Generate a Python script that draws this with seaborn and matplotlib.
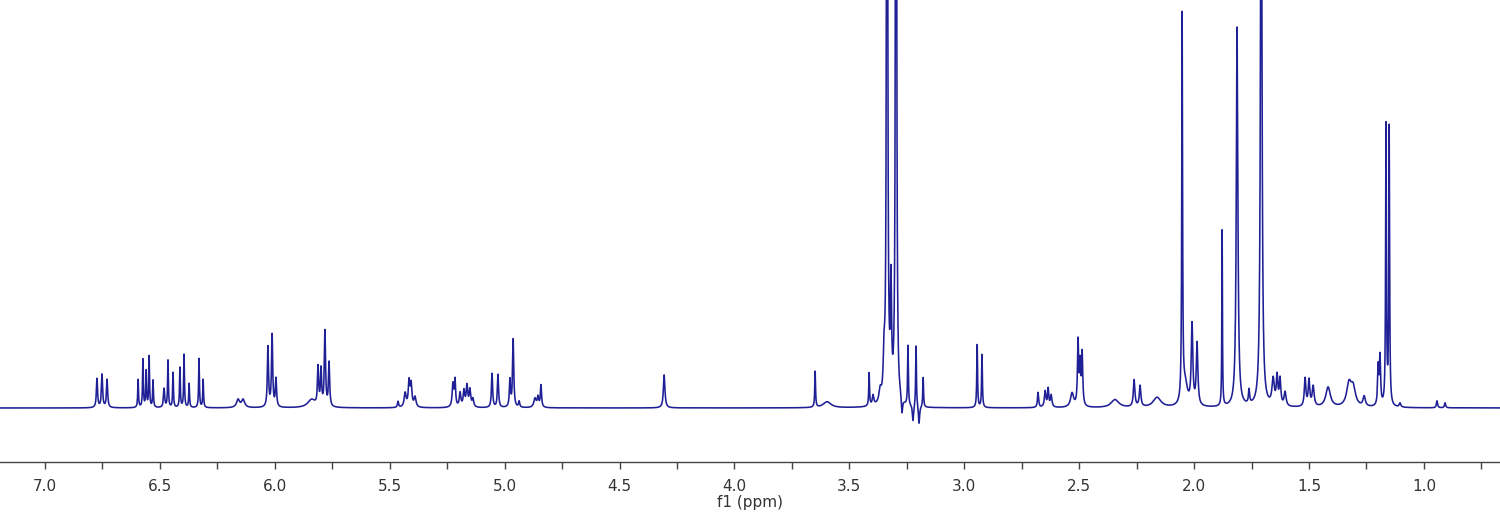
import numpy as np
import pandas as pd
import matplotlib
matplotlib.use("Agg")
import matplotlib.pyplot as plt
import seaborn as sns
from matplotlib.ticker import MultipleLocator, FormatStrFormatter

# Peak list (ppm, height above baseline, half width in ppm)
peak_ppm = [
    6.774, 6.752, 6.730,
    6.595, 6.574, 6.560, 6.547, 6.530,
    6.482, 6.465, 6.443, 6.413, 6.395, 6.373, 6.330, 6.312,
    6.160, 6.138,
    6.030, 6.012, 5.995,
    5.840, 5.812, 5.799, 5.782, 5.764,
    5.464, 5.433, 5.416, 5.407, 5.390,
    5.225, 5.216, 5.194, 5.177, 5.164, 5.151, 5.138,
    5.055, 5.029, 4.977, 4.963, 4.937,
    4.868, 4.855, 4.842,
    4.306,
    3.649, 3.597,
    3.414, 3.397, 3.366, 3.349, 3.336, 3.319, 3.297,
    3.271, 3.245, 3.223, 3.210, 3.197, 3.179,
    2.944, 2.923,
    2.679, 2.648, 2.635, 2.622,
    2.531, 2.505, 2.496, 2.487,
    2.344, 2.261, 2.235, 2.161,
    2.052, 2.039, 2.009, 1.987,
    1.878, 1.813, 1.761, 1.708,
    1.656, 1.639, 1.626, 1.604,
    1.517, 1.500, 1.482, 1.417, 1.326, 1.308, 1.260,
    1.199, 1.191, 1.165, 1.151, 1.104,
    0.943, 0.908,
]
peak_height = [
    29, 33, 28,
    28, 48, 36, 51, 27,
    19, 47, 35, 40, 53, 24, 49, 28,
    8, 8,
    60, 72, 28,
    8, 38, 36, 75, 44,
    6, 14, 25, 22, 10,
    23, 26, 14, 16, 21, 17, 8,
    34, 33, 27, 68, 6,
    9, 10, 22,
    33,
    36, 6,
    33, 10, 12, 40, 1500, 110, 1500,
    -16, 60, -16, 62, -18, 30,
    63, 53,
    15, 16, 18, 12,
    14, 64, 40, 52,
    8, 27, 21, 10,
    385, 22, 80, 62,
    176, 380, 14, 700,
    26, 28, 26, 14,
    28, 26, 20, 20, 22, 18, 10,
    38, 48, 280, 278, 4,
    7, 5,
]
peak_hwhm = [
    0.003, 0.003, 0.003,
    0.002, 0.002, 0.002, 0.002, 0.002,
    0.003, 0.002, 0.002, 0.002, 0.002, 0.002, 0.002, 0.002,
    0.008, 0.008,
    0.003, 0.003, 0.003,
    0.02, 0.003, 0.003, 0.003, 0.003,
    0.003, 0.005, 0.004, 0.004, 0.005,
    0.004, 0.003, 0.004, 0.004, 0.004, 0.004, 0.004,
    0.003, 0.003, 0.003, 0.003, 0.003,
    0.006, 0.004, 0.003,
    0.004,
    0.002, 0.02,
    0.002, 0.004, 0.006, 0.004, 0.002, 0.003, 0.002,
    0.003, 0.002, 0.003, 0.002, 0.003, 0.002,
    0.002, 0.002,
    0.003, 0.004, 0.003, 0.004,
    0.008, 0.003, 0.003, 0.003,
    0.02, 0.004, 0.004, 0.02,
    0.002, 0.012, 0.004, 0.004,
    0.0015, 0.004, 0.003, 0.0035,
    0.006, 0.004, 0.004, 0.005,
    0.004, 0.004, 0.005, 0.012, 0.012, 0.012, 0.006,
    0.003, 0.003, 0.002, 0.002, 0.004,
    0.003, 0.003,
]

# build the trace from the peak list
ppm = np.arange(0.66, 7.21, 0.0003)
intensity = np.zeros_like(ppm)
for c, h, w in zip(peak_ppm, peak_height, peak_hwhm):
    intensity += h * w ** 2 / (w ** 2 + (ppm - c) ** 2)
df = pd.DataFrame({"ppm": ppm, "intensity": intensity})

sns.set_style("white")
plt.rcParams['font.family'] = ['DejaVu Sans']

fig = plt.figure(figsize=(15, 5.16), dpi=100)
ax = fig.add_axes([0, 0.1047, 1, 0.8953])
sns.lineplot(data=df, x="ppm", y="intensity", estimator=None, sort=False,
             color="#1f1f96", linewidth=1.15, ax=ax)

ax.set_xlim(7.196, 0.669)
ax.set_ylim(-54, 408)
for s in ["left", "top", "right"]:
    ax.spines[s].set_visible(False)
ax.spines["bottom"].set_color("#444444")
ax.spines["bottom"].set_linewidth(1.0)
ax.set_yticks([])
ax.set_ylabel("")
ax.xaxis.set_major_locator(MultipleLocator(0.5))
ax.xaxis.set_minor_locator(MultipleLocator(0.25))
ax.xaxis.set_major_formatter(FormatStrFormatter("%.1f"))
ax.tick_params(axis="x", which="both", direction="out", length=5, width=1,
               color="#444444", bottom=True, labelsize=11, labelcolor="#333333", pad=7)
ax.set_xlabel("f1 (ppm)", fontsize=11, color="#333333", labelpad=1)

fig.savefig("out.png", dpi=100)
